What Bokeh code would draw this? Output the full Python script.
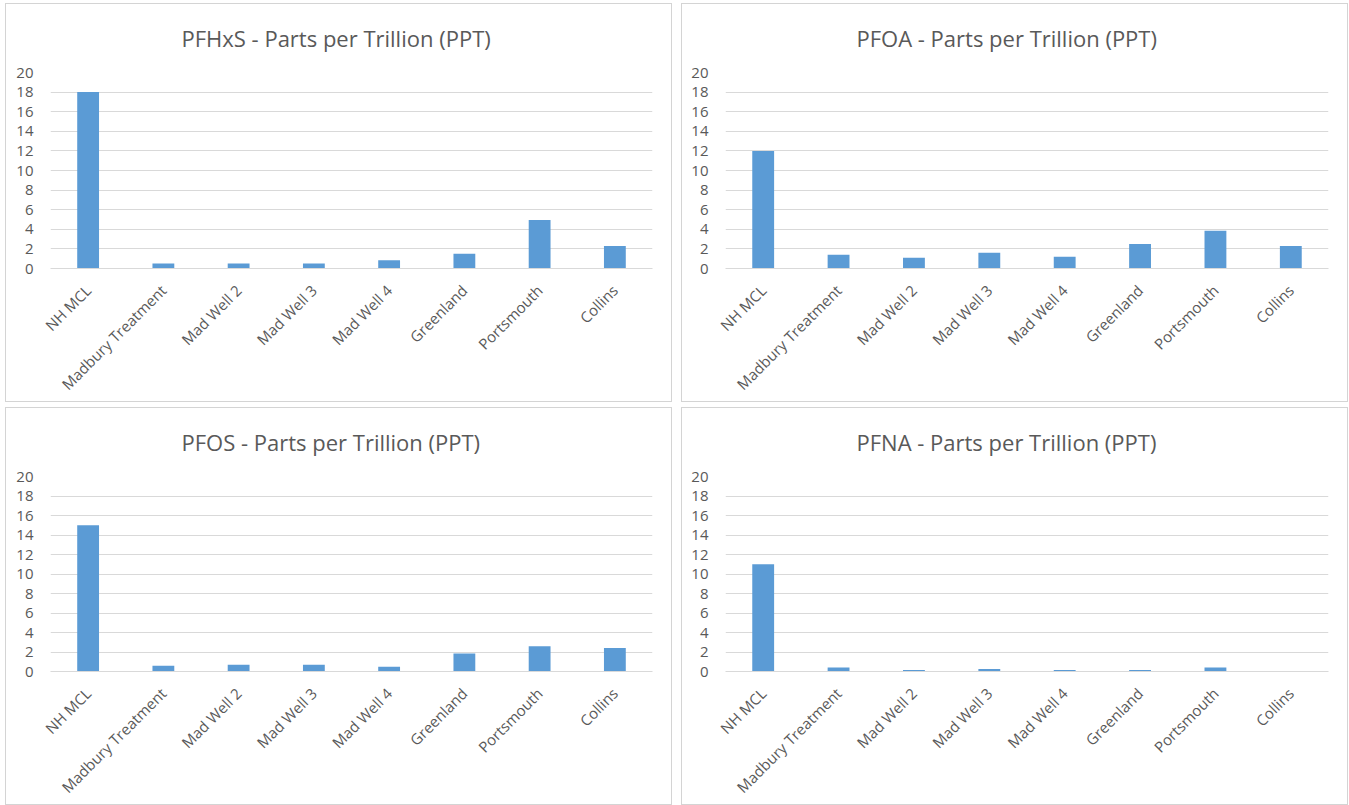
from bokeh.plotting import figure
from bokeh.layouts import column, row, Spacer
from bokeh.models import FixedTicker, Range1d, ColumnDataSource
from bokeh.embed import file_html
from bokeh.resources import INLINE
import math

sites = ["NH MCL", "Madbury Treatment", "Mad Well 2", "Mad Well 3",
         "Mad Well 4", "Greenland", "Portsmouth", "Collins"]

pfhxs = [18, 0.5, 0.5, 0.5, 0.85, 1.5, 4.95, 2.3]
pfoa = [12, 1.4, 1.1, 1.6, 1.2, 2.5, 3.85, 2.3]
pfos = [15, 0.6, 0.7, 0.7, 0.5, 1.85, 2.6, 2.4]
pfna = [11, 0.4, 0.15, 0.25, 0.15, 0.15, 0.4, 0.0]

titles = ["PFHxS - Parts per Trillion (PPT)", "PFOA - Parts per Trillion (PPT)",
          "PFOS - Parts per Trillion (PPT)", "PFNA - Parts per Trillion (PPT)"]
y_ticks = [0, 2, 4, 6, 8, 10, 12, 14, 16, 18, 20]

FONT = "Open Sans"
TXT = "#595959"
GRID = "#d9d9d9"
BAR = "#5b9bd5"


def make(title, vals, height, left, right, top, bottom):
    src = ColumnDataSource(dict(site=sites, v=vals))
    p = figure(x_range=sites, y_range=Range1d(0, 20), width=667, height=height,
               output_backend="svg", toolbar_location=None, tools="",
               min_border_left=left, min_border_right=right,
               min_border_top=top, min_border_bottom=bottom)
    p.styles = {"border": "1px solid #d4d4d4", "box-sizing": "border-box"}
    p.vbar(x="site", top="v", width=0.29, source=src, color=BAR, line_color=None)
    p.title.text = title
    p.title.align = "left"
    p.title.offset = 131
    p.title.vertical_align = "top"
    p.title.standoff = 35
    p.title.text_font = FONT
    p.title.text_font_size = "22px"
    p.title.text_font_style = "normal"
    p.title.text_color = TXT
    p.outline_line_color = None
    p.xgrid.grid_line_color = None
    p.ygrid.grid_line_color = GRID
    p.yaxis.ticker = FixedTicker(ticks=y_ticks)
    p.yaxis.axis_line_color = None
    p.yaxis.major_tick_line_color = None
    p.yaxis.minor_tick_line_color = None
    p.yaxis.major_label_standoff = 11
    p.xaxis.axis_line_color = GRID
    p.xaxis.major_tick_line_color = None
    p.xaxis.major_label_orientation = math.pi / 4
    p.xaxis.major_label_standoff = 13
    for ax in (p.xaxis, p.yaxis):
        ax.major_label_text_font = FONT
        ax.major_label_text_font_size = "15px"
        ax.major_label_text_color = TXT
    return p


p1 = make(titles[0], pfhxs, 399, 44, 21, 68, 133)
p2 = make(titles[1], pfoa, 399, 43, 21, 68, 133)
p3 = make(titles[2], pfos, 398, 44, 21, 68, 132)
p4 = make(titles[3], pfna, 398, 43, 21, 68, 132)

layout = column(
    Spacer(height=3),
    row(Spacer(width=5), p1, Spacer(width=9), p2),
    Spacer(height=5),
    row(Spacer(width=5), p3, Spacer(width=9), p4),
)

open("out.html", "w").write(file_html(layout, INLINE))
